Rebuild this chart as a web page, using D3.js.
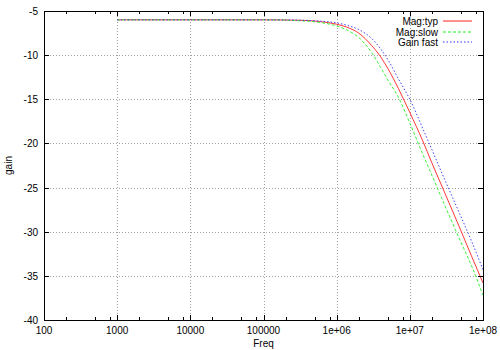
<!DOCTYPE html>
<html>
<head>
<meta charset="utf-8">
<script src="https://cdn.jsdelivr.net/npm/d3@7"></script>
<style>
body { margin: 0; background: #fff; }
text { font-family: "Liberation Sans", Arial, sans-serif; font-size: 10px; fill: #000; }
</style>
</head>
<body>
<svg id="chart"></svg>
<script>
var w = 500;
var h = 350;
var margin = {top: 11, right: 17, bottom: 30, left: 44};

// frequencies (Hz) the curves were read at
var freqs = [1e3, 1e4, 1e5, 3e5, 6e5, 1e6, 1.5e6, 2e6, 3e6, 4e6, 5e6, 7e6, 1e7, 1.5e7, 2e7, 3e7, 5e7, 7e7, 1e8];

var magTyp  = [-6, -6, -6, -6.05, -6.2, -6.5, -6.95, -7.5, -8.9, -10.2, -11.5, -13.8, -16.5, -19.7, -22.2, -25.6, -29.9, -32.8, -35.8];
var magSlow = [-6, -6, -6, -6.1, -6.3, -6.7, -7.3, -8.0, -9.7, -11.4, -12.8, -14.8, -17.7, -21.2, -23.6, -27.0, -31.2, -33.9, -37.2];
var gainFast = [-6, -6, -6, -6.03, -6.15, -6.35, -6.7, -7.1, -8.1, -9.3, -10.5, -12.7, -15.0, -18.3, -20.7, -24.1, -28.3, -31.1, -34.3];

var xTicks = [1e2, 1e3, 1e4, 1e5, 1e6, 1e7, 1e8];
var xTickLabels = ["100", "1000", "10000", "100000", "1e+06", "1e+07", "1e+08"];
var yTicks = [-40, -35, -30, -25, -20, -15, -10, -5];
var minorSteps = [2, 5, 8];

var seriesNames = ["Mag:typ", "Mag:slow", "Gain fast"];
var seriesData = [magTyp, magSlow, gainFast];
var seriesColors = ["#ff2020", "#20f020", "#3030ff"];
var seriesDash = ["none", "3,2", "1.5,2"];

var svg = d3.select("#chart").attr("width", w).attr("height", h);

var x = d3.scaleLog()
    .domain([1e2, 1e8])
    .range([margin.left, w - margin.right]);

var y = d3.scaleLinear()
    .domain([-40, -5])
    .range([h - margin.bottom, margin.top]);

var x0 = x.range()[0], x1 = x.range()[1];
var y0 = y.range()[0], y1 = y.range()[1];

// grid
var grid = svg.append("g")
    .attr("stroke", "#a0a0a0")
    .attr("stroke-width", 1)
    .attr("stroke-dasharray", "1,2")
    .attr("shape-rendering", "crispEdges");

grid.selectAll("line.gx")
    .data(xTicks.slice(1, -1))
    .enter()
    .append("line")
    .attr("x1", function(d){ return Math.round(x(d)) + 0.5; })
    .attr("x2", function(d){ return Math.round(x(d)) + 0.5; })
    .attr("y1", y0)
    .attr("y2", y1);

grid.selectAll("line.gy")
    .data(yTicks.slice(1, -1))
    .enter()
    .append("line")
    .attr("y1", function(d){ return Math.round(y(d)) + 0.5; })
    .attr("y2", function(d){ return Math.round(y(d)) + 0.5; })
    .attr("x1", x0)
    .attr("x2", x1);

// curves
var line = d3.line()
    .x(function(d, i){ return x(freqs[i]); })
    .y(function(d){ return y(d); })
    .curve(d3.curveMonotoneX);

seriesData.forEach(function(s, i){
    svg.append("path")
        .datum(s)
        .attr("fill", "none")
        .attr("stroke", seriesColors[i])
        .attr("stroke-width", 0.9)
        .attr("stroke-dasharray", seriesDash[i])
        .attr("d", line);
});

// ticks (mirrored, inward)
var ticks = svg.append("g")
    .attr("stroke", "#000")
    .attr("stroke-width", 1)
    .attr("shape-rendering", "crispEdges");

var minors = [];
xTicks.slice(0, -1).forEach(function(t){
    minorSteps.forEach(function(m){ minors.push(t * m); });
});

function xTick(v, len){
    var px = Math.round(x(v)) + 0.5;
    ticks.append("line").attr("x1", px).attr("x2", px).attr("y1", y0).attr("y2", y0 - len);
    ticks.append("line").attr("x1", px).attr("x2", px).attr("y1", y1).attr("y2", y1 + len);
}
xTicks.forEach(function(v){ xTick(v, 5); });
minors.forEach(function(v){ xTick(v, 3); });

yTicks.forEach(function(v){
    var py = Math.round(y(v)) + 0.5;
    ticks.append("line").attr("x1", x0).attr("x2", x0 + 5).attr("y1", py).attr("y2", py);
    ticks.append("line").attr("x1", x1).attr("x2", x1 - 5).attr("y1", py).attr("y2", py);
});

// border
svg.append("rect")
    .attr("x", x0 + 0.5)
    .attr("y", y1 + 0.5)
    .attr("width", x1 - x0)
    .attr("height", y0 - y1)
    .attr("fill", "none")
    .attr("stroke", "#000")
    .attr("shape-rendering", "crispEdges");

// tick labels
svg.selectAll("text.xl")
    .data(xTicks)
    .enter()
    .append("text")
    .attr("x", function(d){ return x(d); })
    .attr("y", y0 + 14)
    .attr("text-anchor", "middle")
    .text(function(d, i){ return xTickLabels[i]; });

svg.selectAll("text.yl")
    .data(yTicks)
    .enter()
    .append("text")
    .attr("x", x0 - 6)
    .attr("y", function(d){ return y(d) + 4; })
    .attr("text-anchor", "end")
    .text(function(d){ return d; });

// axis titles
svg.append("text")
    .attr("x", (x0 + x1) / 2)
    .attr("y", h - 3)
    .attr("text-anchor", "middle")
    .text("Freq");

svg.append("text")
    .attr("transform", "translate(12," + ((y0 + y1) / 2) + ") rotate(-90)")
    .attr("text-anchor", "middle")
    .text("gain");

// legend
seriesNames.forEach(function(name, i){
    var ly = 21 + i * 10.5;
    svg.append("text")
        .attr("x", 438)
        .attr("y", ly + 4)
        .attr("text-anchor", "end")
        .text(name);
    svg.append("line")
        .attr("x1", 443)
        .attr("x2", 472)
        .attr("y1", Math.round(ly))
        .attr("y2", Math.round(ly))
        .attr("stroke", seriesColors[i])
        .attr("stroke-width", 1)
        .attr("stroke-dasharray", seriesDash[i]);
});
</script>
</body>
</html>
